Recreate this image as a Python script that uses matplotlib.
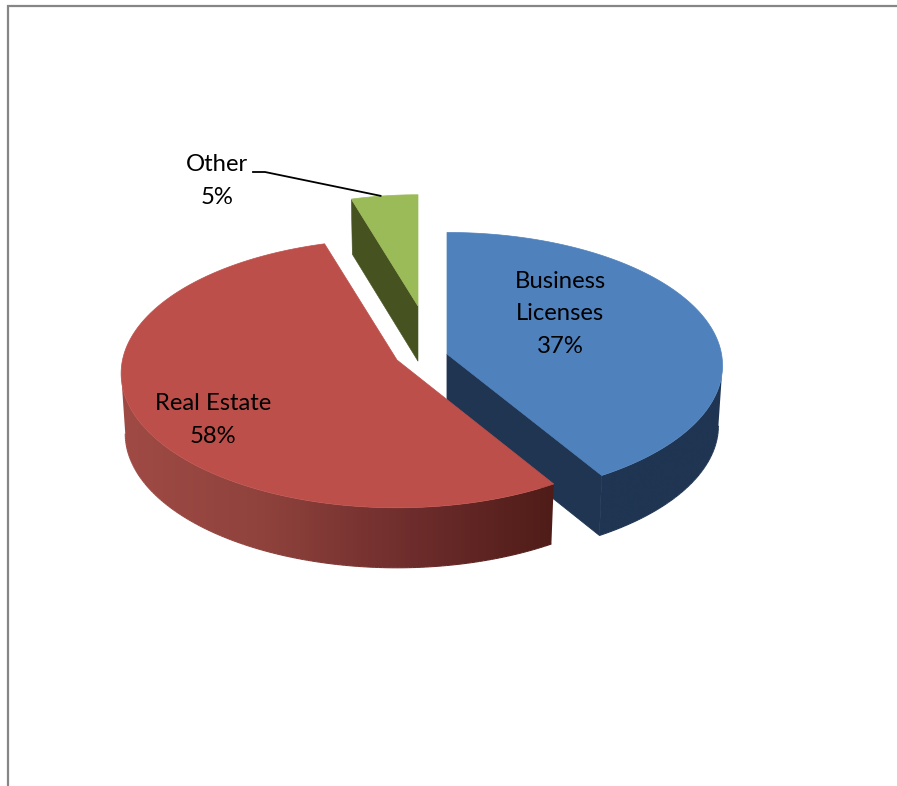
import numpy as np
import matplotlib
matplotlib.use("Agg")
import matplotlib.pyplot as plt
from matplotlib.patches import Polygon
from matplotlib.collections import LineCollection
from matplotlib.colors import LinearSegmentedColormap

# ---- data ----
categories = ["Business\nLicenses", "Real Estate", "Other"]
shares = [37, 58, 5]

# ---- styles / layout ----
top_colors = ["#4F81BD", "#BD4F4B", "#9BBB59"]
apex = [(447, 354), (397, 360), (418, 306)]
slice_scale = [1.0, 1.0, 0.92]
slice_persp = [0.086, 0.10, 0.10]
slice_b = [132.0, 133.0, 133.0]
label_xy = [(560, 314), (213, 420), (217, 181)]
side_cmap = [
    LinearSegmentedColormap.from_list("b", ["#1F3552", "#1F3552"]),
    LinearSegmentedColormap.from_list("r", ["#A04A45", "#8F423C", "#6E2D2C", "#4F1C18"]),
    LinearSegmentedColormap.from_list("g", ["#465320", "#465320"]),
]
A_PX = 274.5
DEPTH = 60.0
BOTTOM_SHRINK = 0.985


def view_warp(deg):
    """Angle distortion of the tilted view."""
    r = np.radians(deg)
    return deg - 7.6 * np.sin(2 * r) + 10.6 * np.sin(r)


def project(theta_deg, k, b_px, persp):
    """Pie-plane angle (clockwise from 12 o'clock) to offset from a slice apex."""
    t = np.radians(theta_deg)
    x, y = np.sin(t), np.cos(t)
    d = 1 + persp * y
    return k * A_PX * x / d, -k * b_px * y / d


fig = plt.figure(figsize=(8.97, 7.86), dpi=100)
ax = fig.add_axes([0, 0, 1, 1])
ax.axis("off")

# chart frame
ax.plot([8, 8, 897], [786, 6, 6], color="#868686", lw=1.6, solid_joinstyle="miter", zorder=0)

edges = np.cumsum([0] + shares) / sum(shares) * 360.0
arcs = {}
for i in [2, 0, 1]:  # back slice first, Real Estate overlaps Business Licenses
    th = np.linspace(view_warp(edges[i]), view_warp(edges[i + 1]), 240)
    k = slice_scale[i]
    dx, dy = project(th, k, slice_b[i], slice_persp[i])
    ax_, ay_ = apex[i]
    depth = DEPTH * (0.92 if k < 1 else 1.0)
    x_top, y_top = ax_ + dx, ay_ + dy
    x_bot, y_bot = ax_ + dx * BOTTOM_SHRINK, ay_ + dy + depth
    z = 2 + [1, 2, 0][i]
    arcs[i] = (x_top, y_top)

    # visible straight cut face
    if i == 0:
        face = [(ax_, ay_), (x_top[-1], y_top[-1]), (x_bot[-1], y_bot[-1]), (ax_, ay_ + depth)]
        ax.add_patch(Polygon(face, closed=True, fc=side_cmap[0](0.5), ec=side_cmap[0](0.5), lw=0.6, zorder=z + 0.2))
    if i == 2:
        face = [(ax_, ay_), (x_top[0], y_top[0]), (x_bot[0], y_bot[0]), (ax_, ay_ + depth)]
        ax.add_patch(Polygon(face, closed=True, fc=side_cmap[2](0.5), ec=side_cmap[2](0.5), lw=0.4, zorder=z + 0.2))

    # curved outer wall with horizontal shading
    if i != 2:
        front = np.arange(np.argmax(x_top), len(th)) if i == 0 else np.arange(0, np.argmin(x_top) + 1)
        xt, yt, xb, yb = x_top[front], y_top[front], x_bot[front], y_bot[front]
        lo, hi = min(xt.min(), xb.min()) - 1, max(xt.max(), xb.max()) + 1
        wall = Polygon(np.column_stack([np.r_[xt, xb[::-1]], np.r_[yt, yb[::-1]]]),
                       closed=True, fc="none", ec="none", zorder=z)
        ax.add_patch(wall)
        grad = np.linspace(0, 1, 256).reshape(1, -1)
        im = ax.imshow(grad, cmap=side_cmap[i], vmin=0, vmax=1, aspect="auto",
                       extent=(lo, hi, yb.max() + 1, yt.min() - 1), zorder=z)
        im.set_clip_path(wall)
        # soft lower rim so the clipped edge stays smooth
        seg = np.stack([np.column_stack([xb[:-1], yb[:-1]]), np.column_stack([xb[1:], yb[1:]])], axis=1)
        rim = LineCollection(seg, colors=side_cmap[i]((0.5 * (xb[:-1] + xb[1:]) - lo) / (hi - lo)),
                             linewidths=0.8, zorder=z)
        ax.add_collection(rim)

    # top face
    pts = np.column_stack([np.r_[ax_, x_top], np.r_[ay_, y_top]])
    ax.add_patch(Polygon(pts, closed=True, fc=top_colors[i], ec=top_colors[i], lw=0.5, zorder=z + 0.5))

ax.set_xlim(0, 897)
ax.set_ylim(786, 0)

# labels
for name, val, (lx, ly) in zip(categories, shares, label_xy):
    ax.text(lx, ly, f"{name}\n{val}%", ha="center", va="center", fontsize=17.2,
            linespacing=1.66, color="black", family=["Lato", "DejaVu Sans"], zorder=10)

# leader line from the Other label to its slice
gx, gy = arcs[2]
end = len(gx) // 2
ax.plot([253, 265, gx[end] - 4], [172, 172, gy[end]], color="black", lw=1.3, zorder=9)

fig.savefig("out.png", dpi=100, facecolor="white")
